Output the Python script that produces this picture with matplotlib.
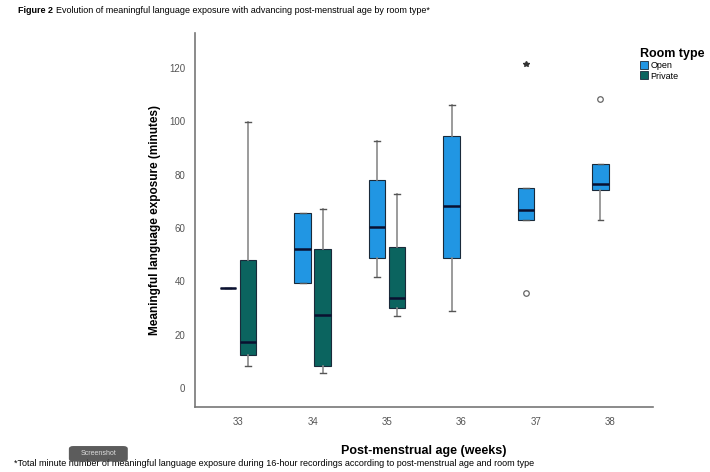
import matplotlib
matplotlib.use('Agg')
import matplotlib.pyplot as plt
from matplotlib.patches import Patch, FancyBboxPatch

plt.rcParams['font.family'] = ['Liberation Sans', 'DejaVu Sans']

weeks = ['33', '34', '35', '36', '37', '38']

# box stats: (whislo, q1, med, q3, whishi)
open_stats = [
    (37.5, 37.5, 37.5, 37.5, 37.5),
    (39.3, 39.3, 52.3, 65.5, 65.5),
    (41.5, 48.7, 60.3, 78.0, 92.5),
    (28.9, 48.7, 68.2, 94.6, 106.2),
    (63.0, 63.0, 66.9, 74.9, 74.9),
    (63.0, 74.3, 76.5, 84.0, 84.0),
]
open_outliers = [[], [], [], [], [35.8], [108.2]]
open_extremes = [[], [], [], [], [121.4], []]

private_weeks = ['33', '34', '35']
private_stats = [
    (8.4, 12.5, 17.3, 48.2, 99.8),
    (5.7, 8.2, 27.5, 52.3, 67.2),
    (26.9, 30.2, 33.8, 52.8, 72.6),
]

open_color = '#2196e3'
private_color = '#0b645f'

fig = plt.figure(figsize=(7.1, 4.72), dpi=100)
ax = fig.add_axes([0.2746, 0.1377, 0.6451, 0.7923])


def make_stats(rows, fliers):
    out = []
    for (lo, q1, med, q3, hi), fl in zip(rows, fliers):
        out.append(dict(whislo=lo, q1=q1, med=med, q3=q3, whishi=hi, fliers=fl))
    return out


boxprops = dict(edgecolor='#1a2a3a', linewidth=0.8)
medianprops = dict(color='#0a1030', linewidth=1.8)
whiskerprops = dict(color='#8a8a8a', linewidth=1.2)
capprops = dict(color='#555555', linewidth=1.0)
flierprops = dict(marker='o', markersize=4, markerfacecolor='white',
                  markeredgecolor='#666666', markeredgewidth=0.9)

off = 0.135
w = 0.22
pos_open = [i - off for i in range(len(weeks))]
pos_priv = [weeks.index(wk) + off for wk in private_weeks]

b1 = ax.bxp(make_stats(open_stats, open_outliers), positions=pos_open, widths=w,
            patch_artist=True, boxprops=boxprops, medianprops=medianprops,
            whiskerprops=whiskerprops, capprops=capprops, flierprops=flierprops,
            capwidths=0.08)
for b in b1['boxes']:
    b.set_facecolor(open_color)

b2 = ax.bxp(make_stats(private_stats, [[]] * 3), positions=pos_priv, widths=w,
            patch_artist=True, boxprops=boxprops, medianprops=medianprops,
            whiskerprops=whiskerprops, capprops=capprops, flierprops=flierprops,
            capwidths=0.08)
for b in b2['boxes']:
    b.set_facecolor(private_color)

# extreme values shown as stars
for p, ext in zip(pos_open, open_extremes):
    for v in ext:
        ax.plot(p, v, marker='*', color='#333333', markersize=4, linestyle='none')

ax.set_xlim(-0.58, 5.57)
ax.set_ylim(-7, 133)
ax.set_yticks([0, 20, 40, 60, 80, 100, 120])
ax.set_xticks(range(len(weeks)))
ax.set_xticklabels(weeks)
ax.tick_params(axis='both', length=0, labelsize=7, colors='#555555', pad=7)
for s in ['top', 'right']:
    ax.spines[s].set_visible(False)
for s in ['left', 'bottom']:
    ax.spines[s].set_color('#777777')
    ax.spines[s].set_linewidth(1.2)

ax.set_xlabel('Post-menstrual age (weeks)', fontsize=9, fontweight='bold', labelpad=13)
ax.set_ylabel('Meaningful language exposure (minutes)', fontsize=8.5, fontweight='bold',
              labelpad=6)

handles = [Patch(facecolor=open_color, edgecolor='#1a2a3a', linewidth=0.6, label='Open'),
           Patch(facecolor=private_color, edgecolor='#1a2a3a', linewidth=0.6, label='Private')]
leg = fig.legend(handles=handles, title='Room type', loc='upper left',
                 bbox_to_anchor=(0.896, 0.905), frameon=False, fontsize=6.5,
                 handlelength=0.9, handleheight=1.0, handletextpad=0.3,
                 labelspacing=0.1, borderaxespad=0, alignment='left')
leg.get_title().set_fontweight('bold')
leg.get_title().set_fontsize(9)

# title: bold prefix + normal text
t1 = fig.text(0.025, 0.977, 'Figure 2', fontsize=6.5, fontweight='bold', va='center')
fig.canvas.draw()
bb = t1.get_window_extent()
fig.text(bb.x1 / fig.bbox.width + 0.004, 0.977,
         'Evolution of meaningful language exposure with advancing post-menstrual age by room type*',
         fontsize=6.5, va='center')

fig.text(0.02, 0.019,
         '*Total minute number of meaningful language exposure during 16-hour recordings '
         'according to post-menstrual age and room type', fontsize=6.5, va='center')

# "Screenshot" tooltip overlay seen in the source image
tip = FancyBboxPatch((0.097, 0.022), 0.083, 0.033, boxstyle='round,pad=0,rounding_size=0.006',
                     transform=fig.transFigure, facecolor='#4a4a4a', edgecolor='none',
                     alpha=0.9, zorder=5)
fig.patches.append(tip)
fig.text(0.1385, 0.0385, 'Screenshot', fontsize=5, color='#dddddd', ha='center',
         va='center', zorder=6)

fig.savefig('out.png', dpi=100)
